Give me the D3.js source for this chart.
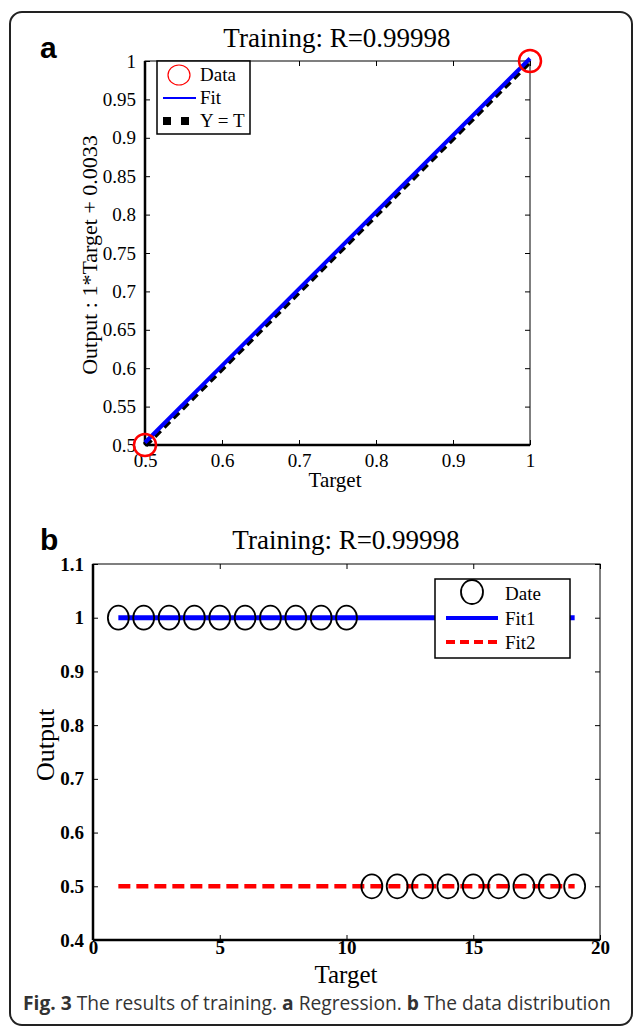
<!DOCTYPE html>
<html>
<head>
<meta charset="utf-8">
<script src="https://cdn.jsdelivr.net/npm/d3@7"></script>
<style>
body { margin: 0; background: #fff; }
svg { display: block; }
.serif { font-family: "Liberation Serif", "Times New Roman", serif; }
</style>
</head>
<body>
<svg id="fig" width="636" height="1031"></svg>
<script>
// panel a: regression
var regTarget = [0.5, 1];
var regOutput = [0.5, 1];
var fitSlope = 1;
var fitIntercept = 0.0033;
var regTicks = [0.5, 0.55, 0.6, 0.65, 0.7, 0.75, 0.8, 0.85, 0.9, 0.95, 1];
var regXTicks = [0.5, 0.6, 0.7, 0.8, 0.9, 1];

// panel b: data distribution
var distTarget = [1, 2, 3, 4, 5, 6, 7, 8, 9, 10, 11, 12, 13, 14, 15, 16, 17, 18, 19];
var distOutput = [1, 1, 1, 1, 1, 1, 1, 1, 1, 1, 0.5, 0.5, 0.5, 0.5, 0.5, 0.5, 0.5, 0.5, 0.5];
var fit1X = [1, 19];
var fit1Y = [1, 1];
var fit2X = [1, 19];
var fit2Y = [0.5, 0.5];
var distXTicks = [0, 5, 10, 15, 20];
var distYTicks = [0.4, 0.5, 0.6, 0.7, 0.8, 0.9, 1, 1.1];

var svg = d3.select('#fig');

// outer frame
svg.append('rect').attr('x', 10).attr('y', 12).attr('width', 622).attr('height', 1013)
  .attr('rx', 12).attr('fill', 'none').attr('stroke', '#222').attr('stroke-width', 2);

// ---------- panel a ----------
var ax = d3.scaleLinear().domain([0.5, 1]).range([145, 530]);
var ay = d3.scaleLinear().domain([0.5, 1]).range([445, 61]);

var ga = svg.append('g');
ga.append('text').attr('x', 40).attr('y', 58).text('a')
  .attr('font-family', 'Liberation Sans, Arial, sans-serif').attr('font-weight', 'bold').attr('font-size', 30);
ga.append('text').attr('class', 'serif').attr('x', 337).attr('y', 47).attr('text-anchor', 'middle')
  .attr('font-size', 27).text('Training: R=0.99998');

drawBox(ga, ax, ay, regXTicks, regTicks, 5, d3.format(''), false, 4);

// Y = T dashed
ga.append('line')
  .attr('x1', ax(0.5)).attr('y1', ay(0.5)).attr('x2', ax(1)).attr('y2', ay(1))
  .attr('stroke', '#000').attr('stroke-width', 6).attr('stroke-dasharray', '8,5');
// Fit line
ga.append('line')
  .attr('x1', ax(0.5)).attr('y1', ay(fitSlope * 0.5 + fitIntercept))
  .attr('x2', ax(1)).attr('y2', ay(fitSlope * 1 + fitIntercept))
  .attr('stroke', '#0000ff').attr('stroke-width', 4);
// data circles
ga.selectAll('circle.data').data(regTarget).enter().append('circle')
  .attr('cx', function (d) { return ax(d); })
  .attr('cy', function (d, i) { return ay(regOutput[i]); })
  .attr('r', 11).attr('fill', 'none').attr('stroke', '#ff0000').attr('stroke-width', 2.5);

ga.append('text').attr('class', 'serif').attr('transform', 'translate(97,255) rotate(-90)')
  .attr('text-anchor', 'middle').attr('font-size', 22).text('Output :  1*Target + 0.0033');
ga.append('text').attr('class', 'serif').attr('x', 335).attr('y', 487).attr('text-anchor', 'middle')
  .attr('font-size', 21).text('Target');

// legend a
var la = ga.append('g');
la.append('rect').attr('x', 157).attr('y', 61).attr('width', 93).attr('height', 73)
  .attr('fill', '#fff').attr('stroke', '#000').attr('stroke-width', 1.5);
la.append('ellipse').attr('cx', 179).attr('cy', 75).attr('rx', 11).attr('ry', 10)
  .attr('fill', 'none').attr('stroke', '#ff0000').attr('stroke-width', 1.2);
la.append('line').attr('x1', 163).attr('x2', 196).attr('y1', 98).attr('y2', 98)
  .attr('stroke', '#0000ff').attr('stroke-width', 2);
la.append('rect').attr('x', 163).attr('y', 117).attr('width', 8).attr('height', 8).attr('fill', '#000');
la.append('rect').attr('x', 181).attr('y', 117).attr('width', 8).attr('height', 8).attr('fill', '#000');
[['Data', 81], ['Fit', 104], ['Y = T', 127]].forEach(function (e) {
  la.append('text').attr('class', 'serif').attr('x', 200).attr('y', e[1]).attr('font-size', 19).text(e[0]);
});

// ---------- panel b ----------
var bx = d3.scaleLinear().domain([0, 20]).range([93, 600]);
var by = d3.scaleLinear().domain([0.4, 1.1]).range([940, 564]);

var gb = svg.append('g');
gb.append('text').attr('x', 40).attr('y', 550).text('b')
  .attr('font-family', 'Liberation Sans, Arial, sans-serif').attr('font-weight', 'bold').attr('font-size', 30);
gb.append('text').attr('class', 'serif').attr('x', 346).attr('y', 549).attr('text-anchor', 'middle')
  .attr('font-size', 27).text('Training: R=0.99998');

drawBox(gb, bx, by, distXTicks, distYTicks, 5, d3.format(''), true, -5);

gb.append('line')
  .attr('x1', bx(fit1X[0])).attr('y1', by(fit1Y[0])).attr('x2', bx(fit1X[1])).attr('y2', by(fit1Y[1]))
  .attr('stroke', '#0000ff').attr('stroke-width', 5);
gb.append('line')
  .attr('x1', bx(fit2X[0])).attr('y1', by(fit2Y[0])).attr('x2', bx(fit2X[1])).attr('y2', by(fit2Y[1]))
  .attr('stroke', '#ff0000').attr('stroke-width', 4.5).attr('stroke-dasharray', '12,6');
gb.selectAll('ellipse.pt').data(distTarget).enter().append('ellipse')
  .attr('cx', function (d) { return bx(d); })
  .attr('cy', function (d, i) { return by(distOutput[i]); })
  .attr('rx', 10.5).attr('ry', 12).attr('fill', 'none').attr('stroke', '#000').attr('stroke-width', 1.8);

gb.append('text').attr('class', 'serif').attr('transform', 'translate(54,745) rotate(-90)')
  .attr('text-anchor', 'middle').attr('font-size', 26).text('Output');
gb.append('text').attr('class', 'serif').attr('x', 346).attr('y', 983).attr('text-anchor', 'middle')
  .attr('font-size', 25).text('Target');

// legend b
var lb = gb.append('g');
lb.append('rect').attr('x', 435).attr('y', 579).attr('width', 135).attr('height', 79)
  .attr('fill', '#fff').attr('stroke', '#000').attr('stroke-width', 1.5);
lb.append('ellipse').attr('cx', 472).attr('cy', 592).attr('rx', 11).attr('ry', 12)
  .attr('fill', 'none').attr('stroke', '#000').attr('stroke-width', 1.8);
lb.append('line').attr('x1', 446).attr('x2', 498).attr('y1', 618).attr('y2', 618)
  .attr('stroke', '#0000ff').attr('stroke-width', 4);
lb.append('line').attr('x1', 446).attr('x2', 498).attr('y1', 642).attr('y2', 642)
  .attr('stroke', '#ff0000').attr('stroke-width', 4).attr('stroke-dasharray', '9,5');
[['Date', 600], ['Fit1', 625], ['Fit2', 649]].forEach(function (e) {
  lb.append('text').attr('class', 'serif').attr('x', 505).attr('y', e[1]).attr('font-size', 19).text(e[0]);
});

// caption
var cap = svg.append('text').attr('x', 23).attr('y', 1010)
  .attr('font-family', 'Open Sans, sans-serif').attr('font-size', 19.2).attr('fill', '#333');
cap.append('tspan').attr('font-weight', 'bold').text('Fig. 3');
cap.append('tspan').text(' The results of training. ');
cap.append('tspan').attr('font-weight', 'bold').text('a');
cap.append('tspan').text(' Regression. ');
cap.append('tspan').attr('font-weight', 'bold').text('b');
cap.append('tspan').text(' The data distribution');

// matlab style box with inward ticks on all four sides
function drawBox(g, x, y, xt, yt, tl, fmt, bold, xpad) {
  var x0 = x.range()[0], x1 = x.range()[1], y0 = y.range()[0], y1 = y.range()[1];
  var axes = g.append('g');
  axes.append('rect').attr('x', x0).attr('y', y1).attr('width', x1 - x0).attr('height', y0 - y1)
    .attr('fill', 'none').attr('stroke', '#000').attr('stroke-width', 1);
  axes.append('line').attr('x1', x0).attr('x2', x1).attr('y1', y0).attr('y2', y0)
    .attr('stroke', '#000').attr('stroke-width', 2.5);
  axes.append('line').attr('x1', x0).attr('x2', x0).attr('y1', y0).attr('y2', y1)
    .attr('stroke', '#000').attr('stroke-width', 2.5);

  var xa = g.append('g').attr('transform', 'translate(0,' + y0 + ')')
    .call(d3.axisBottom(x).tickValues(xt).tickSize(-tl).tickPadding(tl + xpad).tickFormat(fmt));
  var xtop = g.append('g').attr('transform', 'translate(0,' + y1 + ')')
    .call(d3.axisTop(x).tickValues(xt).tickSize(-tl).tickFormat(''));
  var ya = g.append('g').attr('transform', 'translate(' + x0 + ',0)')
    .call(d3.axisLeft(y).tickValues(yt).tickSize(-tl).tickPadding(tl + 4).tickFormat(fmt));
  var yr = g.append('g').attr('transform', 'translate(' + x1 + ',0)')
    .call(d3.axisRight(y).tickValues(yt).tickSize(-tl).tickFormat(''));
  [xa, xtop, ya, yr].forEach(function (s) {
    s.select('.domain').remove();
    s.selectAll('line').attr('stroke', '#000');
    s.selectAll('text').attr('font-family', 'Liberation Serif, Times New Roman, serif')
      .attr('font-size', 19).attr('fill', '#000').attr('font-weight', bold ? 'bold' : 'normal');
  });
}
</script>
</body>
</html>
